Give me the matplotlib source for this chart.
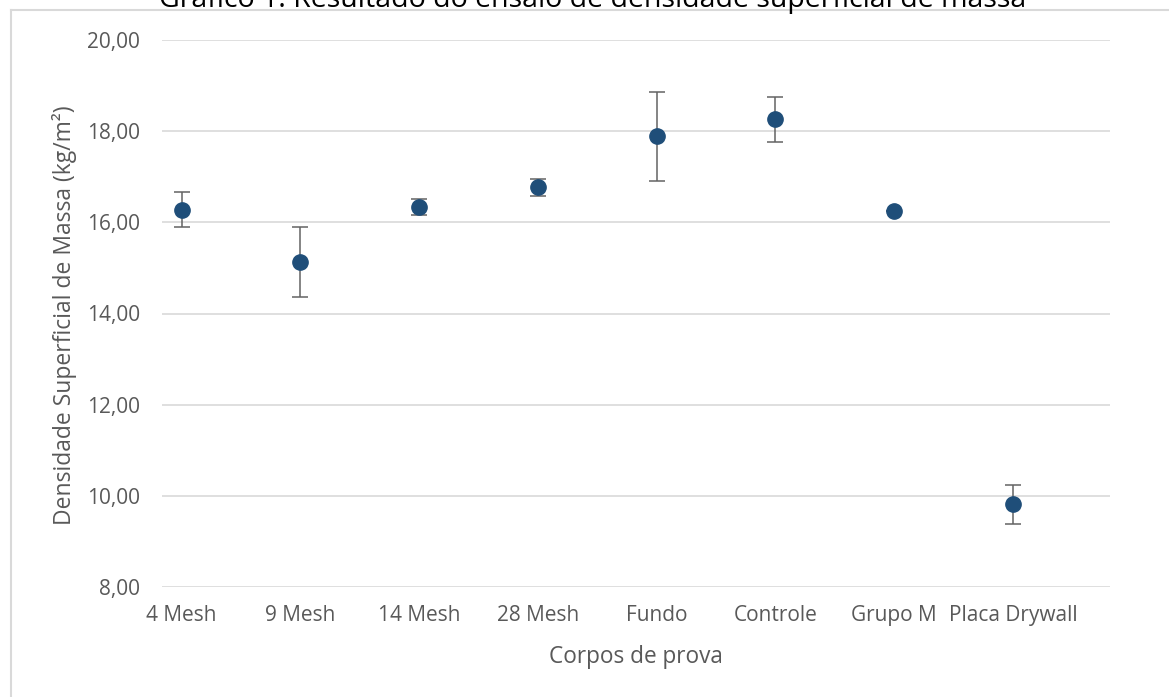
import matplotlib
matplotlib.use("Agg")
import matplotlib.pyplot as plt
from matplotlib.lines import Line2D
import numpy as np

# Corpos de prova e resultados (média ± desvio padrão)
categorias = ["4 Mesh", "9 Mesh", "14 Mesh", "28 Mesh", "Fundo",
              "Controle", "Grupo M", "Placa Drywall"]
densidade = [16.28, 15.13, 16.34, 16.77, 17.89, 18.26, 16.25, 9.81]
desvio = [0.38, 0.76, 0.17, 0.19, 0.98, 0.50, 0.0, 0.42]
yticks = [8, 10, 12, 14, 16, 18, 20]

plt.rcParams["font.family"] = ["Open Sans", "DejaVu Sans"]

W, H = 1169, 697
fig = plt.figure(figsize=(W / 100, H / 100), dpi=100)
fig.patch.set_facecolor("white")

# moldura da área do gráfico
fig.add_artist(Line2D([11 / W, 11 / W], [0, 1 - 10 / H], color="#D9D9D9",
                      lw=1.5, transform=fig.transFigure))
fig.add_artist(Line2D([11 / W, 1], [1 - 10 / H, 1 - 10 / H], color="#D9D9D9",
                      lw=1.5, transform=fig.transFigure))

left, right, top, bottom = 162, 1110, 40, 587
ax = fig.add_axes([left / W, 1 - bottom / H, (right - left) / W, (bottom - top) / H])
ax.set_facecolor("none")

x = np.arange(1, len(categorias) + 1)
ax.errorbar(x, densidade, yerr=desvio, fmt="o", color="#1F4E79",
            markersize=11, ecolor="#636363", elinewidth=1.1,
            capsize=6, capthick=1.1, zorder=3)

ax.set_xlim(0.834, 8.817)
ax.set_ylim(8, 20)
ax.set_yticks(yticks)
ax.set_yticklabels([f"{v:.2f}".replace(".", ",") for v in yticks])
ax.set_xticks(x)
ax.set_xticklabels(categorias)
ax.grid(axis="y", color="#D9D9D9", lw=1.2)
ax.set_axisbelow(True)
for s in ax.spines.values():
    s.set_visible(False)
ax.tick_params(axis="both", length=0, labelsize=15, labelcolor="#595959")
ax.tick_params(axis="y", pad=15.8)
ax.tick_params(axis="x", pad=13)

fig.text(636 / W, 1 - 657 / H, "Corpos de prova", fontsize=16.3,
         color="#595959", ha="center", va="center")
fig.text(65 / W, 1 - 315 / H, "Densidade Superficial de Massa (kg/m²)",
         fontsize=16.5, color="#595959", ha="center", va="center",
         rotation=90)

fig.text(593 / W, 1 - 7 / H,
         "Gráfico 1: Resultado do ensaio de densidade superficial de massa",
         ha="center", va="baseline", fontsize=20.5, color="black")

fig.savefig("out.png", dpi=100)
